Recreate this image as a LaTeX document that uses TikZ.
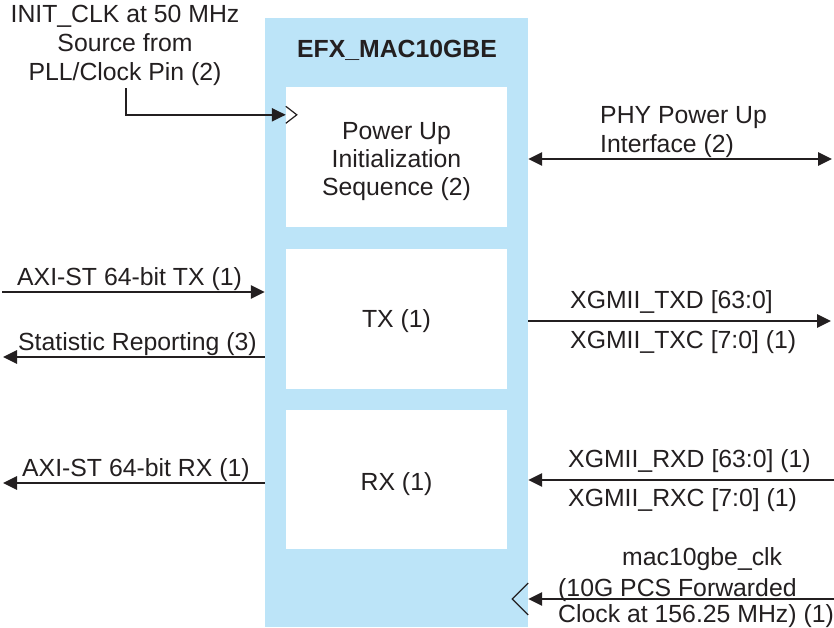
\documentclass[tikz,border=0pt]{standalone}
\usepackage{fontspec}
\setmainfont{Liberation Sans}
\usetikzlibrary{arrows.meta}
\usetikzlibrary{positioning}
\definecolor{macblue}{RGB}{188,228,248}
\definecolor{ink}{RGB}{35,31,32}

\begin{document}
\begin{tikzpicture}[x=1pt,y=-1pt,
	font=\fontsize{24.8}{28}\selectfont,
	>={Triangle[length=14pt,width=13pt]},
	core/.style={fill=macblue,minimum width=263pt,minimum height=609pt,inner sep=0pt},
	blk/.style={fill=white,minimum width=221pt,minimum height=140pt,align=center,inner sep=0pt,text=ink},
	lbl/.style={inner sep=0pt,text=ink},
	sig/.style={line width=2.8pt,draw=ink},
	clk/.style={line width=1.2pt,draw=ink}]
	\useasboundingbox (0,0) rectangle (834,627);
	\node[core] (mac) at (396.5,322.5){};
	\node[lbl,font=\fontsize{24.8}{28}\selectfont\bfseries] (title) at (397,50){EFX\_MAC10GBE};
	\node[blk] (pwr) at (396.5,157){};%init
	\node[lbl,align=center] (pwrtxt) at ([yshift=-5pt]pwr.center){Power Up\\Initialization\\Sequence (2)};
	\node[blk,text height=22pt] (tx) at (396.5,319){TX (1)};%tx
	\node[blk,minimum height=139pt,text height=28pt] (rx) at (396.5,479.5){RX (1)};%rx
	% clock in
	\coordinate (clksrc) at (126,88);
	\coordinate (clkin) at ([yshift=-28pt]pwr.north west);
	\draw[sig,line width=2.2pt,->] (clksrc) |- (clkin);
	\draw[clk] ([yshift=8.5pt]clkin) -- ++(11,8.5) -- ++(-11,8.5);
	\node[lbl,anchor=base] (clklbl) at (125,22){INIT\_CLK at 50 MHz};
	\node[lbl,anchor=base] (clklbl2) at (125,51){Source from};
	\node[lbl,anchor=base] (clklbl3) at (125,80){PLL/Clock Pin (2)};
	% phy power up
	\coordinate (phyout) at (832,159);
	\draw[sig,<->] (mac.east |- phyout) -- (phyout);
	\node[lbl,anchor=base west] (phylbl) at (600,123){PHY Power Up};
	\node[lbl,anchor=base west] (phylbl2) at (600,152){Interface (2)};
	% user side
	\coordinate (txsrc) at (2,292);
	\draw[sig,->] (txsrc) -- (mac.west |- txsrc);
	\node[lbl,anchor=base west] (txlbl) at (17,285){AXI-ST 64-bit TX (1)};
	\coordinate (statdst) at (3,357);
	\draw[sig,->] (mac.west |- statdst) -- (statdst);
	\node[lbl,anchor=base west] (statlbl) at (18,350){Statistic Reporting (3)};
	\coordinate (rxdst) at (3,483);
	\draw[sig,->] (mac.west |- rxdst) -- (rxdst);
	\node[lbl,anchor=base west] (rxlbl) at (22,476){AXI-ST 64-bit RX (1)};
	% xgmii side
	\coordinate (xtxdst) at (831,321);
	\draw[sig,->] (mac.east |- xtxdst) -- (xtxdst);
	\node[lbl,anchor=base west] (txdlbl) at (570,308){XGMII\_TXD [63:0]};
	\node[lbl,anchor=base west] (txclbl) at (570,348){XGMII\_TXC [7:0] (1)};
	\coordinate (xrxsrc) at (834,480);
	\draw[sig,->] (xrxsrc) -- (mac.east |- xrxsrc);
	\node[lbl,anchor=base west] (rxdlbl) at (568,467){XGMII\_RXD [63:0] (1)};
	\node[lbl,anchor=base west] (rxclbl) at (568,506){XGMII\_RXC [7:0] (1)};
	% pcs clock
	\coordinate (pcsclk) at (834,599);
	\coordinate (macclk) at (mac.east |- pcsclk);
	\draw[sig,->] (pcsclk) -- (macclk);
	\draw[clk] ([yshift=16pt]macclk) -- ++(-16,16) -- ++(16,16);
	\node[lbl,anchor=base west] (pcslbl) at (622,565){mac10gbe\_clk};
	\node[lbl,anchor=base west] (pcslbl2) at (558,596){(10G PCS Forwarded};
	\node[lbl,anchor=base west] (pcslbl3) at (558,622){Clock at 156.25 MHz) (1)};
\end{tikzpicture}
\end{document}
